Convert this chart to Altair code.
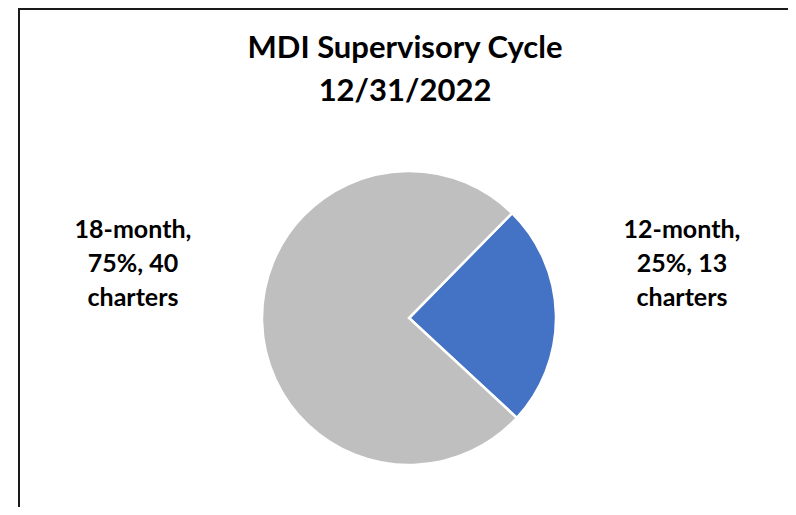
import math
import altair as alt
import pandas as pd

categories = ["12-month", "18-month"]
percents = [25, 75]
charters = [13, 40]
colors = ["#4472C4", "#BFBFBF"]
title_lines = ["MDI Supervisory Cycle", "12/31/2022"]

df = pd.DataFrame({
    "category": categories,
    "percent": percents,
    "charters": charters,
    "order": list(range(len(categories))),
})
df["label"] = [f"{c},\n{p}%, {n}\ncharters" for c, p, n in zip(categories, percents, charters)]

W, H = 780, 499
FONT = "Lato"
start = math.radians(44.5)

base = alt.Chart(df)

pie = base.mark_arc(stroke="white", strokeWidth=2.5, outerRadius=147).encode(
    theta=alt.Theta("charters:Q", stack=True, scale=alt.Scale(range=[start, start + 2 * math.pi])),
    color=alt.Color("category:N", scale=alt.Scale(domain=categories, range=colors), legend=None),
    order=alt.Order("order:Q"),
    x=alt.value(401),
    y=alt.value(310),
)

label_style = dict(font=FONT, fontSize=25, fontWeight="bold", align="center",
                   baseline="alphabetic", lineBreak="\n", lineHeight=34, color="black")

lab_right = base.transform_filter(alt.datum.category == categories[0]).mark_text(**label_style).encode(
    text="label:N", x=alt.value(674), y=alt.value(230))
lab_left = base.transform_filter(alt.datum.category == categories[1]).mark_text(**label_style).encode(
    text="label:N", x=alt.value(125), y=alt.value(230))

title_df = pd.DataFrame({"t": ["\n".join(title_lines)]})
title = alt.Chart(title_df).mark_text(font=FONT, fontSize=31, fontWeight="bold", align="center",
                                      baseline="alphabetic", lineBreak="\n", lineHeight=43,
                                      color="black").encode(
    text="t:N", x=alt.value(397), y=alt.value(50))

border_df = pd.DataFrame({"k": [1]})
left_b = alt.Chart(border_df).mark_rule(color="#1a1a1a", strokeWidth=2).encode(
    x=alt.value(11), y=alt.value(0), y2=alt.value(H))
top_b = alt.Chart(border_df).mark_rule(color="#1a1a1a", strokeWidth=2).encode(
    x=alt.value(10), x2=alt.value(W), y=alt.value(1))

chart = alt.layer(pie, lab_left, lab_right, title, left_b, top_b).properties(
    width=W, height=H, padding=0, autosize=alt.AutoSizeParams(type="none"),
    background="white",
).configure_view(stroke=None)

chart.save("out.html", embed_options={"renderer": "svg", "actions": False})
